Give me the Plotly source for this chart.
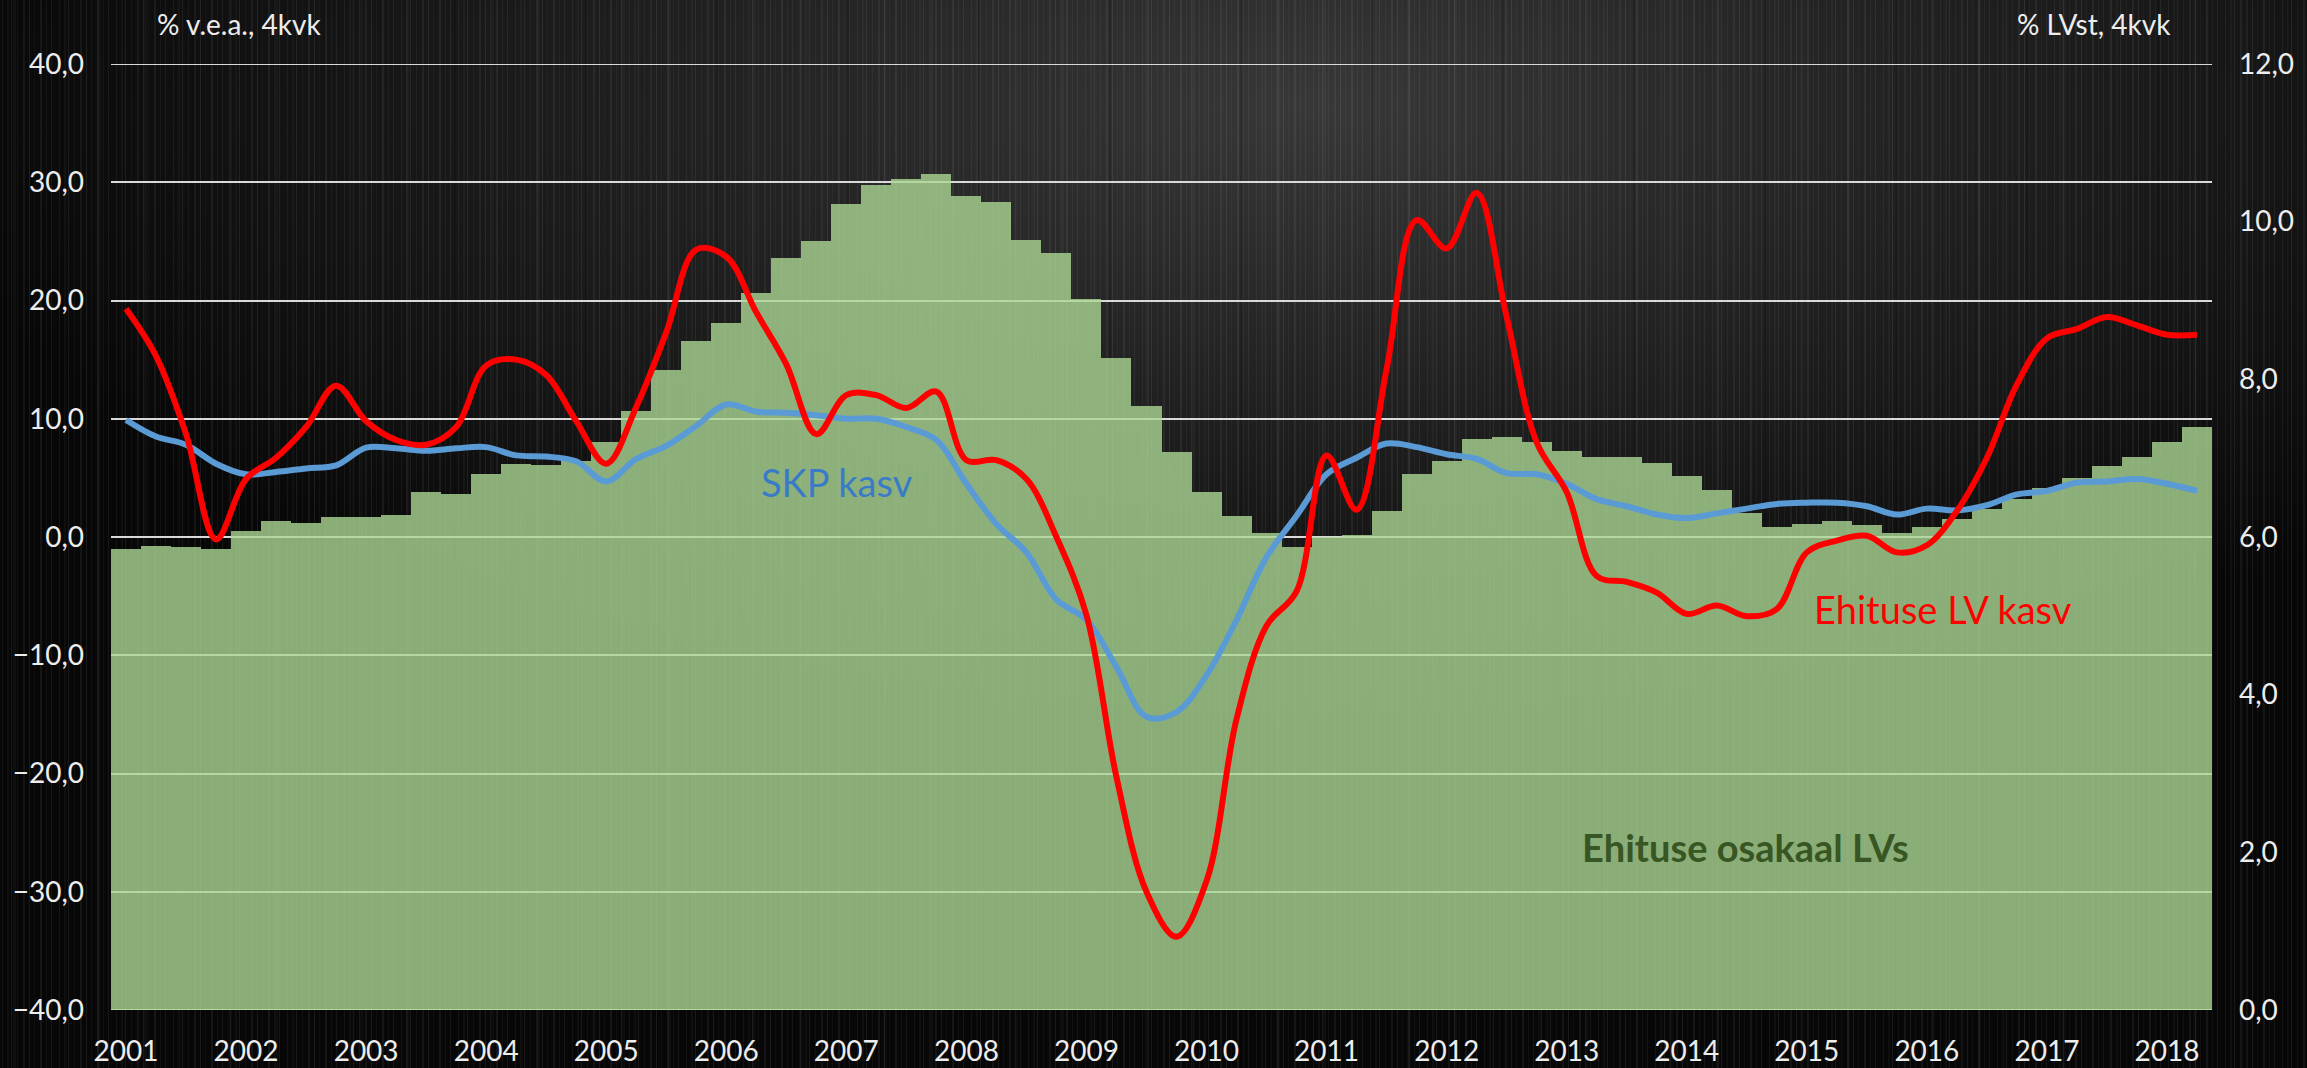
import base64
import plotly.graph_objects as go

# ---------------- data (quarterly 2001Q1 .. 2018Q2) ----------------
years = [str(y) for y in range(2001, 2019)]
quarters = list(range(70))

# Ehituse osakaal LVs (% LVst, 4kvk) - right axis
ehitus_osakaal = [5.85, 5.89, 5.87, 5.85, 6.07, 6.20, 6.18, 6.25,
                  6.25, 6.28, 6.57, 6.54, 6.80, 6.93, 6.91, 6.97,
                  7.20, 7.60, 8.12, 8.49, 8.72, 9.10, 9.54, 9.75,
                  10.22, 10.47, 10.54, 10.60, 10.33, 10.25, 9.77, 9.60,
                  9.02, 8.27, 7.66, 7.08, 6.57, 6.27, 6.05, 5.87,
                  6.00, 6.02, 6.33, 6.80, 6.97, 7.24, 7.27, 7.20,
                  7.09, 7.02, 7.02, 6.94, 6.78, 6.60, 6.30, 6.13,
                  6.17, 6.20, 6.15, 6.05, 6.13, 6.23, 6.35, 6.48,
                  6.62, 6.75, 6.90, 7.02, 7.20, 7.39]

# Ehituse LV kasv (% v.e.a., 4kvk) - left axis
ehitus_kasv = [19.3, 15.3, 8.7, -0.2, 4.9, 6.7, 9.3, 12.8,
               9.8, 8.2, 7.8, 9.3, 14.5, 15.0, 13.7, 9.8,
               6.2, 11.0, 17.3, 24.3, 23.7, 19.0, 14.6, 8.7,
               12.0, 12.0, 10.9, 12.3, 6.5, 6.5, 4.9, 0.0,
               -6.6, -20.3, -30.0, -33.8, -29.1, -15.4, -7.5, -4.6,
               6.9, 2.3, 14.2, 26.8, 24.4, 29.1, 18.6, 8.0,
               3.8, -3.3, -3.8, -4.7, -6.5, -5.8, -6.7, -6.1,
               -1.3, -0.3, 0.1, -1.3, -0.7, 2.2, 6.7, 12.9,
               16.8, 17.6, 18.6, 17.9, 17.1, 17.1]

# SKP kasv (% v.e.a., 4kvk) - left axis
skp_kasv = [9.9, 8.5, 7.8, 6.2, 5.3, 5.5, 5.8, 6.05,
            7.56, 7.5, 7.3, 7.5, 7.6, 6.9, 6.8, 6.4,
            4.7, 6.6, 7.7, 9.4, 11.2, 10.6, 10.5, 10.3,
            10.0, 10.0, 9.3, 8.2, 4.5, 1.1, -1.3, -5.3,
            -7.0, -11.0, -15.2, -14.8, -11.7, -7.0, -1.7, 1.8,
            5.3, 6.7, 7.9, 7.6, 7.0, 6.6, 5.4, 5.3,
            4.5, 3.2, 2.6, 1.9, 1.6, 2.0, 2.4, 2.8,
            2.9, 2.9, 2.6, 1.9, 2.4, 2.25, 2.7, 3.6,
            3.9, 4.6, 4.7, 4.9, 4.5, 3.9]

year_ticks = quarters[::4]
left_range = [-40, 40]

FONT = "Lato, 'Open Sans', sans-serif"
TXT = "#EDEDED"
GRID = "#D9D9D9"

# ---------------- background texture (decorative) ----------------
streaks = []
pat = [(2, 1, 0.05), (7, 2, 0.03), (11, 1, 0.07), (17, 1, 0.04), (23, 2, 0.05),
       (29, 1, 0.08), (34, 1, 0.03), (40, 2, 0.06), (46, 1, 0.04), (51, 1, 0.06)]
for xx, ww, op in pat:
    streaks.append(f"<rect x='{xx}' y='0' width='{ww}' height='1068' fill='#ffffff' fill-opacity='{op}'/>")
svg = ("<svg xmlns='http://www.w3.org/2000/svg' width='2307' height='1068'>"
       "<defs>"
       "<radialGradient id='g' cx='0.57' cy='0.1' r='0.6'>"
       "<stop offset='0' stop-color='#383838'/>"
       "<stop offset='0.45' stop-color='#212121'/>"
       "<stop offset='1' stop-color='#070707'/>"
       "</radialGradient>"
       "<pattern id='p' x='0' y='0' width='57' height='1068' patternUnits='userSpaceOnUse'>"
       + "".join(streaks) +
       "</pattern>"
       "<pattern id='q' x='0' y='0' width='131' height='1068' patternUnits='userSpaceOnUse'>"
       "<rect x='13' y='0' width='3' height='1068' fill='#ffffff' fill-opacity='0.03'/>"
       "<rect x='61' y='0' width='2' height='1068' fill='#000000' fill-opacity='0.15'/>"
       "<rect x='97' y='0' width='4' height='1068' fill='#ffffff' fill-opacity='0.025'/>"
       "</pattern>"
       "</defs>"
       "<rect width='2307' height='1068' fill='url(#g)'/>"
       "<rect width='2307' height='1068' fill='url(#p)'/>"
       "<rect width='2307' height='1068' fill='url(#q)'/>"
       "</svg>")
bg_uri = "data:image/svg+xml;base64," + base64.b64encode(svg.encode()).decode()

L, R, T, B = 111, 95, 64, 58
W, H = 2307, 1068
pw, ph = W - L - R, H - T - B

fig = go.Figure()

fig.add_trace(go.Bar(
    x=quarters, y=ehitus_osakaal, yaxis="y", width=1.0,
    marker=dict(color="rgba(171,215,148,0.8)", line=dict(width=0)),
    name="Ehituse osakaal LVs", showlegend=False,
))
fig.add_trace(go.Scatter(
    x=quarters, y=skp_kasv, yaxis="y2", mode="lines",
    line=dict(color="#5B9BD5", width=6, shape="spline", smoothing=1.0),
    name="SKP kasv", showlegend=False,
))
fig.add_trace(go.Scatter(
    x=quarters, y=ehitus_kasv, yaxis="y2", mode="lines",
    line=dict(color="#FF0000", width=6, shape="spline", smoothing=1.0),
    name="Ehituse LV kasv", showlegend=False,
))

# edge gridlines (plotly omits grid at the range ends)
shapes = [dict(type="line", xref="paper", yref="y2", x0=0, x1=1, y0=v, y1=v,
               line=dict(color=GRID, width=2), layer="below") for v in left_range]

fig.update_layout(
    width=W, height=H,
    margin=dict(l=L, r=R, t=T, b=B, autoexpand=False),
    paper_bgcolor="#111111",
    plot_bgcolor="rgba(0,0,0,0)",
    separators=", ",
    bargap=0,
    font=dict(family=FONT, color=TXT, size=28),
    xaxis=dict(
        range=[-0.5, 69.5], tickmode="array", tickvals=year_ticks, ticktext=years,
        showgrid=False, zeroline=False, showline=False, ticks="", automargin=False,
        tickfont=dict(size=28, color=TXT), ticklabelstandoff=22,
    ),
    yaxis=dict(
        side="right", range=[0, 12], dtick=2, tickformat=".1f", automargin=False,
        showgrid=False, zeroline=False, showline=False, ticks="",
        tickfont=dict(size=28, color=TXT), ticklabelstandoff=26,
    ),
    yaxis2=dict(
        side="left", overlaying="y", range=left_range, dtick=10, tickformat=".1f",
        showgrid=True, gridcolor=GRID, gridwidth=2, automargin=False,
        zeroline=False, showline=False, ticks="",
        tickfont=dict(size=28, color=TXT), ticklabelstandoff=26,
    ),
    shapes=shapes,
    images=[dict(
        source=bg_uri, xref="paper", yref="paper",
        x=-L / pw, y=1 + T / ph, sizex=W / pw, sizey=H / ph,
        xanchor="left", yanchor="top", sizing="stretch", layer="below",
    )],
    annotations=[
        dict(text="% v.e.a., 4kvk", xref="paper", yref="paper",
             x=(155 - L) / pw, y=(1010 - 24) / ph, xanchor="left", yanchor="middle",
             showarrow=False, font=dict(size=28, color=TXT)),
        dict(text="% LVst, 4kvk", xref="paper", yref="paper",
             x=(2173 - L) / pw, y=(1010 - 24) / ph, xanchor="right", yanchor="middle",
             showarrow=False, font=dict(size=28, color=TXT)),
        dict(text="SKP kasv", xref="paper", yref="paper",
             x=(837 - L) / pw, y=(1010 - 482) / ph, xanchor="center", yanchor="middle",
             showarrow=False, font=dict(size=38, color="#3A7BC8")),
        dict(text="Ehituse LV kasv", xref="paper", yref="paper",
             x=(1943 - L) / pw, y=(1010 - 609) / ph, xanchor="center", yanchor="middle",
             showarrow=False, font=dict(size=38, color="#FF0000")),
        dict(text="<b>Ehituse osakaal LVs</b>", xref="paper", yref="paper",
             x=(1745 - L) / pw, y=(1010 - 847) / ph, xanchor="center", yanchor="middle",
             showarrow=False, font=dict(size=38, color="#375623")),
    ],
)

fig.write_html(
    "out.html",
    config={"displayModeBar": False},
    post_script="document.body.style.margin='0';document.body.style.overflow='hidden';",
)
